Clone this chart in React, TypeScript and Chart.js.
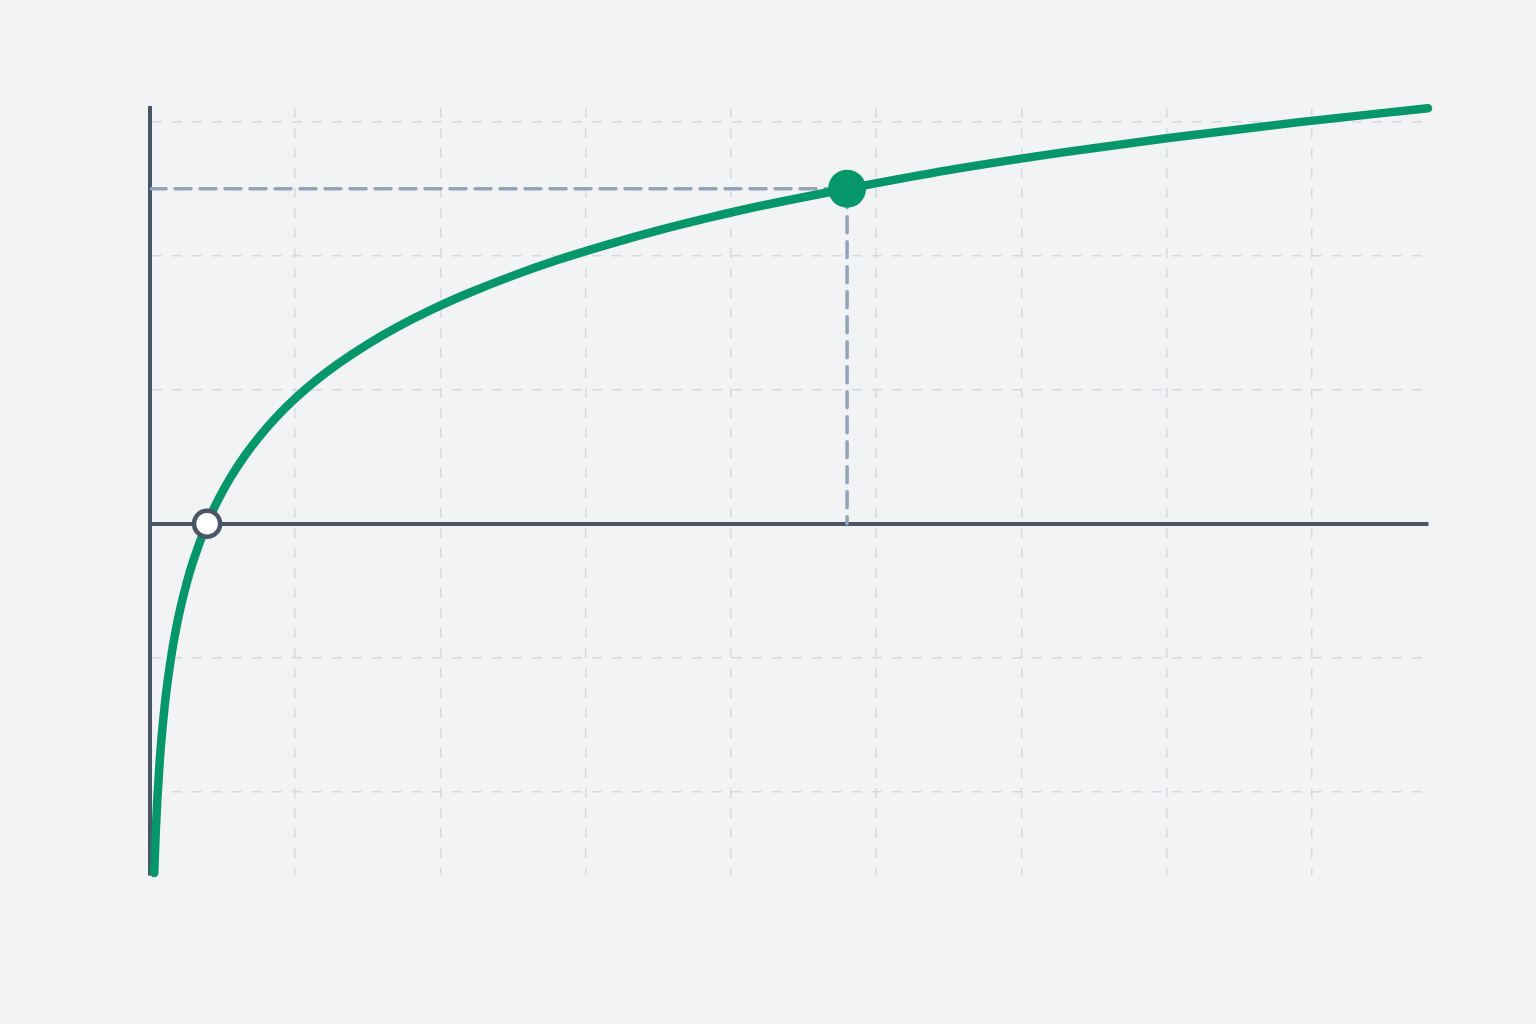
import { useEffect, useRef } from "react";
import { Chart, registerables, type ChartItem } from "chart.js";

Chart.register(...registerables);

// x and y in grid cells
const CURVE_X = [
  0.029, 0.04, 0.05, 0.065, 0.08, 0.1, 0.12, 0.15, 0.18, 0.21, 0.25, 0.3, 0.393, 0.47, 0.55, 0.65, 0.75, 0.87,
  1.0, 1.15, 1.3, 1.5, 1.7, 1.95, 2.2, 2.5, 2.8, 3.15, 3.5, 3.85, 4.2, 4.8, 5.5, 6.3, 7.0, 7.9, 8.8,
];
const CURVE_Y = [
  -2.606, -2.285, -2.062, -1.799, -1.592, -1.369, -1.186, -0.963, -0.781, -0.627, -0.452, -0.27, 0, 0.179, 0.336,
  0.503, 0.646, 0.795, 0.934, 1.074, 1.196, 1.339, 1.465, 1.602, 1.722, 1.85, 1.964, 2.081, 2.187, 2.282, 2.369,
  2.498, 2.637, 2.771, 2.874, 2.993, 3.098,
];

const ROOT_POINT = { x: 0.393, y: 0 };
const MARKED_POINT = { x: 4.8, y: 2.498 };

const X_TICKS = [1, 2, 3, 4, 5, 6, 7, 8];
const Y_TICKS = [-2, -1, 0, 1, 2, 3];
const X_RANGE = [0, 8.8];
const Y_RANGE = [-2.62, 3.1];

const GREEN = "#059669";
const AXIS = "#4a5568";
const GUIDE = "#94a3b8";
const GRID = "#d6dadf";

export default function App() {
  const canvasRef = useRef<HTMLCanvasElement>(null);
  const chartRef = useRef<Chart | null>(null);

  useEffect(() => {
    if (!canvasRef.current) return;
    const ctx = canvasRef.current.getContext("2d") as ChartItem;
    chartRef.current = new Chart(ctx, {
      type: "line",
      data: {
        datasets: [
          {
            data: [MARKED_POINT],
            showLine: false,
            pointRadius: 19,
            pointBackgroundColor: GREEN,
            pointBorderWidth: 0,
            clip: false,
          },
          {
            data: [ROOT_POINT],
            showLine: false,
            pointRadius: 13,
            pointBackgroundColor: "#ffffff",
            pointBorderColor: AXIS,
            pointBorderWidth: 4.5,
            clip: false,
          },
          {
            data: CURVE_X.map((x, i) => ({ x, y: CURVE_Y[i] })),
            borderColor: GREEN,
            borderWidth: 8.5,
            borderCapStyle: "round",
            borderJoinStyle: "round",
            cubicInterpolationMode: "monotone",
            pointRadius: 0,
            clip: false,
          },
          {
            data: [
              { x: X_RANGE[0], y: MARKED_POINT.y },
              { x: MARKED_POINT.x, y: MARKED_POINT.y },
              { x: MARKED_POINT.x, y: 0 },
            ],
            borderColor: GUIDE,
            borderWidth: 3.5,
            borderDash: [16, 9],
            borderCapStyle: "round",
            pointRadius: 0,
            tension: 0,
          },
        ],
      },
      options: {
        animation: false,
        responsive: true,
        maintainAspectRatio: false,
        events: [],
        layout: { padding: { left: 150, top: 108, right: 108, bottom: 149 } },
        plugins: { legend: { display: false }, tooltip: { enabled: false } },
        scales: {
          x: {
            type: "linear",
            position: { y: 0 },
            min: X_RANGE[0],
            max: X_RANGE[1],
            afterBuildTicks: (axis) => {
              axis.ticks = X_TICKS.map((value) => ({ value }));
            },
            ticks: { display: false },
            grid: { color: GRID, lineWidth: 1.5, drawTicks: false },
            border: { color: AXIS, width: 4, dash: [10, 10] },
          },
          y: {
            type: "linear",
            min: Y_RANGE[0],
            max: Y_RANGE[1],
            afterBuildTicks: (axis) => {
              axis.ticks = Y_TICKS.map((value) => ({ value }));
            },
            ticks: { display: false },
            grid: { color: GRID, lineWidth: 1.5, drawTicks: false },
            border: { color: AXIS, width: 4, dash: [10, 10] },
          },
        },
      },
    });
    return () => {
      chartRef.current?.destroy();
      chartRef.current = null;
    };
  }, []);

  return (
    <div
      style={{
        position: "fixed",
        left: 0,
        top: 0,
        width: 1536,
        height: 1024,
        background: "#f1f3f5",
      }}
    >
      <canvas ref={canvasRef} />
    </div>
  );
}
